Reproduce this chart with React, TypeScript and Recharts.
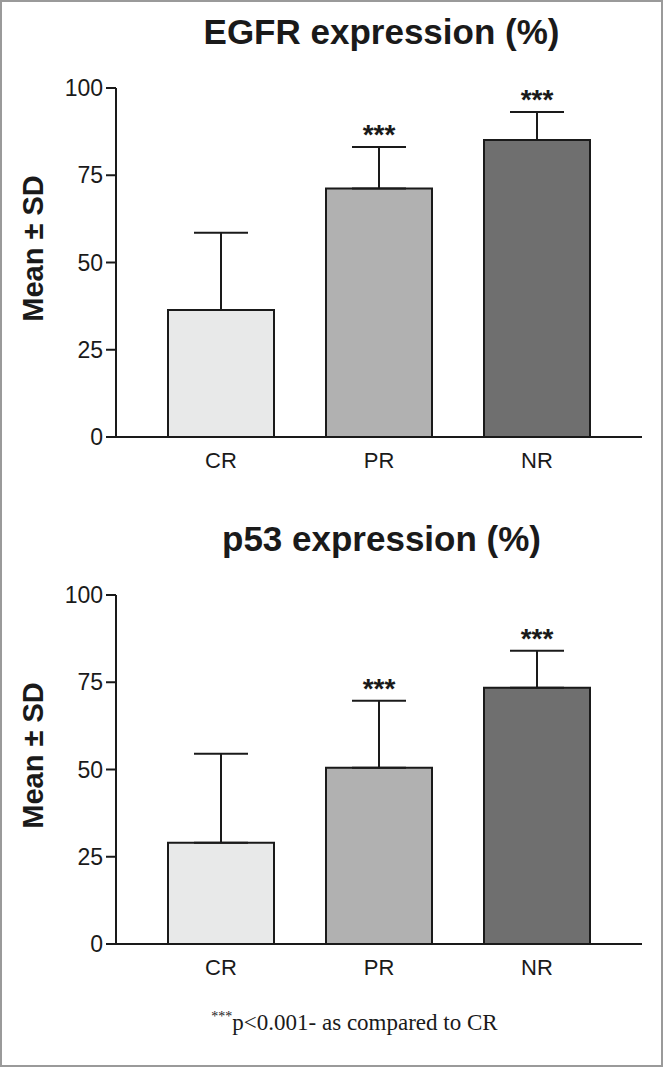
import React from "react";
import { ComposedChart, Bar, Cell, ErrorBar, Line, LabelList, XAxis, YAxis } from "recharts";

const groups = ["CR", "PR", "NR"];
const fills = ["#e8e9e9", "#b1b1b1", "#6f6f6f"];
const egfrMean = [36.4, 71.2, 85.1];
const egfrSd = [22.1, 11.9, 8.0];
const p53Mean = [29.0, 50.5, 73.4];
const p53Sd = [25.5, 19.2, 10.6];
const stars = ["", "***", "***"];
const yTicks = [0, 25, 50, 75, 100];

const SANS = "'Liberation Sans', Arial, Helvetica, sans-serif";
const INK = "#1a1a1a";

function build(mean: number[], sd: number[]) {
  return groups.map((g, i) => ({
    group: g,
    mean: mean[i],
    err: [0, sd[i]],
    top: mean[i] + sd[i],
    sig: stars[i],
  }));
}

// rotated y-axis title, nudged a bit above the axis centre like the original
function YTitle({ viewBox }: any) {
  const cx = 33;
  const cy = viewBox.y + viewBox.height / 2 - 14;
  return (
    <text
      x={cx}
      y={cy}
      transform={`rotate(-90, ${cx}, ${cy})`}
      textAnchor="middle"
      dominantBaseline="central"
      style={{ fontSize: 29, fontWeight: "bold", fill: INK, fontFamily: SANS }}
    >
      Mean ± SD
    </text>
  );
}

function Panel({ title, data, top }: { title: string; data: any[]; top: number }) {
  return (
    <div style={{ position: "absolute", left: 0, top, width: 663, height: 490 }}>
      <div
        style={{
          position: "absolute", left: 0, width: 663, top: 12, textAlign: "center",
          paddingLeft: 100, boxSizing: "border-box",
          fontFamily: SANS, fontWeight: "bold", fontSize: 35, color: INK,
        }}
      >
        {title}
      </div>
      <ComposedChart width={663} height={490} data={data} margin={{ top: 88, right: 21, left: 0, bottom: 23 }}>
        <XAxis
          dataKey="group"
          height={30}
          padding={{ left: 26, right: 26 }}
          tickLine={false}
          axisLine={{ stroke: INK, strokeWidth: 2 }}
          tick={{ fontSize: 22, fill: INK, fontFamily: SANS }}
          tickMargin={9}
        />
        <YAxis
          width={116}
          domain={[0, 100]}
          ticks={yTicks}
          tickSize={10}
          tickLine={{ stroke: INK, strokeWidth: 2 }}
          axisLine={{ stroke: INK, strokeWidth: 2 }}
          tick={{ fontSize: 23, fill: INK, fontFamily: SANS }}
          tickMargin={3}
          label={{ content: YTitle }}
        />
        <Bar dataKey="mean" barSize={106} stroke={INK} strokeWidth={2} isAnimationActive={false}>
          {data.map((_, i) => (
            <Cell key={i} fill={fills[i]} />
          ))}
          <ErrorBar dataKey="err" width={27} stroke={INK} strokeWidth={2} isAnimationActive={false} />
        </Bar>
        <Line dataKey="top" stroke="none" dot={false} activeDot={false} isAnimationActive={false}>
          <LabelList
            dataKey="sig"
            position="top"
            offset={3}
            style={{ fontSize: 28, fontWeight: "bold", fill: INK, fontFamily: SANS }}
          />
        </Line>
      </ComposedChart>
    </div>
  );
}

export default function App() {
  return (
    <div
      style={{
        position: "absolute", left: 0, top: 0, width: 663, height: 1067,
        border: "2px solid #9a9a9a", boxSizing: "border-box", background: "#fff", overflow: "hidden",
      }}
    >
      <div style={{ position: "absolute", left: -2, top: -2 }}>
        <Panel title="EGFR expression (%)" data={build(egfrMean, egfrSd)} top={0} />
        <Panel title="p53 expression (%)" data={build(p53Mean, p53Sd)} top={507} />
        <div
          style={{
            position: "absolute", left: 0, width: 663, top: 1009, textAlign: "center",
            paddingLeft: 46, boxSizing: "border-box",
            fontFamily: "'Liberation Serif', 'Times New Roman', serif", fontSize: 23, color: INK,
          }}
        >
          <sup style={{ fontSize: 14 }}>***</sup>p&lt;0.001- as compared to CR
        </div>
      </div>
    </div>
  );
}
